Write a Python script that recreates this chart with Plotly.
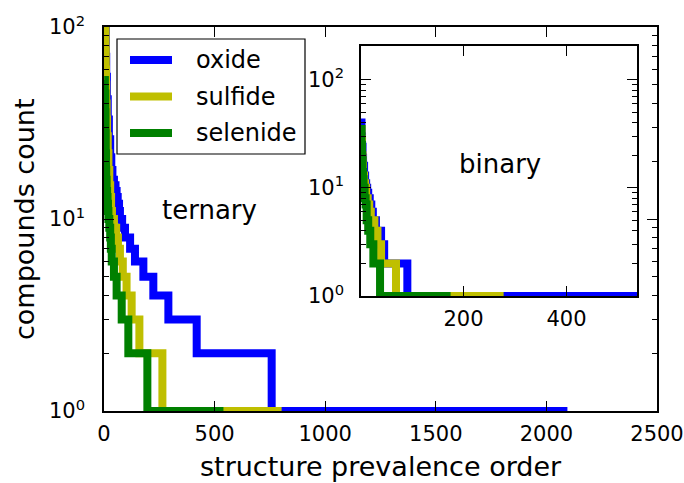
import plotly.graph_objects as go

W, H = 684, 483

# ---------------- data (rank where each count level starts, count) ----------------
series_names = ["oxide", "sulfide", "selenide"]
series_colors = ["#0000ff", "#bfbf00", "#008000"]

# ternary (main panel)
tern_oxide_rank = [1, 3, 5, 6, 8, 10, 13, 17, 22, 28, 33, 38, 45, 52, 57, 62, 68, 72, 82, 95, 118, 140, 178, 223, 291, 419, 758, 2095]
tern_oxide_count = [220, 150, 110, 100, 70, 55, 42, 33, 26, 21, 18, 16, 15, 14, 13, 12, 11, 10, 9, 8, 7, 6, 5, 4, 3, 2, 1, 1]

tern_sulfide_rank = [1, 3, 5, 7, 8, 9, 10, 12, 14, 17, 20, 24, 28, 32, 36, 45, 55, 63, 72, 85, 102, 125, 160, 264, 803]
tern_sulfide_count = [160, 120, 100, 75, 60, 50, 40, 33, 27, 22, 18, 15, 13, 11, 10, 9, 8, 7, 6, 5, 4, 3, 2, 1, 1]

tern_selenide_rank = [1, 4, 6, 7, 8, 9, 10, 12, 14, 16, 18, 20, 24, 28, 31, 35, 45, 57, 80, 110, 196, 540]
tern_selenide_count = [53, 45, 36, 28, 22, 18, 16, 14, 13, 12, 11, 10, 9, 8, 7, 6, 5, 4, 3, 2, 1, 1]

# binary (inset)
bin_oxide_rank = [1, 2, 3, 4, 5, 7, 9, 11, 13, 15, 18, 21, 24, 30, 40, 46, 91, 537]
bin_oxide_count = [40, 30, 24, 19, 16, 13, 11, 10, 9, 8, 7, 6, 5, 4, 3, 2, 1, 1]

bin_sulfide_rank = [1, 2, 3, 4, 5, 7, 9, 11, 14, 17, 20, 27, 33, 40, 69, 278]
bin_sulfide_count = [35, 28, 20, 16, 13, 11, 10, 8, 7, 6, 5, 4, 3, 2, 1, 1]

bin_selenide_rank = [1, 2, 3, 4, 5, 6, 8, 10, 12, 15, 19, 25, 38, 175]
bin_selenide_count = [35, 25, 18, 14, 12, 10, 8, 7, 5, 4, 3, 2, 1, 1]

main_xticks = [0, 500, 1000, 1500, 2000, 2500]
inset_xticks = [200, 400]
log_tickvals = [1, 10, 100]
log_ticktext = ["10<sup>0</sup>", "10<sup>1</sup>", "10<sup>2</sup>"]
minor_vals = [m * d for d in (1, 10, 100) for m in range(2, 10)]

# ---------------- figure ----------------
FONT = "DejaVu Sans"
LW = 8

fig = go.Figure()
tern = [(tern_oxide_rank, tern_oxide_count), (tern_sulfide_rank, tern_sulfide_count),
        (tern_selenide_rank, tern_selenide_count)]
binr = [(bin_oxide_rank, bin_oxide_count), (bin_sulfide_rank, bin_sulfide_count),
        (bin_selenide_rank, bin_selenide_count)]

for (xs, ys), name, col in zip(tern, series_names, series_colors):
    fig.add_trace(go.Scatter(x=xs, y=ys, mode="lines", name=name, showlegend=False,
                             line=dict(color=col, width=LW, shape="hv"),
                             xaxis="x", yaxis="y"))
for (xs, ys), name, col in zip(binr, series_names, series_colors):
    fig.add_trace(go.Scatter(x=xs, y=ys, mode="lines", name=name, showlegend=False,
                             line=dict(color=col, width=LW, shape="hv"),
                             xaxis="x2", yaxis="y2"))


def px(x):
    return x / W


def py(y):
    return 1 - y / H


axis_common = dict(showline=True, linecolor="black", linewidth=1.5, mirror="ticks",
                   ticks="inside", ticklen=10, tickwidth=1.2, tickcolor="black",
                   showgrid=False, zeroline=False, automargin=False,
                   tickfont=dict(family=FONT, size=21, color="black"))

fig.update_layout(
    template="none",
    width=W, height=H, margin=dict(l=0, r=0, t=0, b=0, pad=0),
    paper_bgcolor="white", plot_bgcolor="white", showlegend=False,
    xaxis=dict(domain=[px(104), px(657)], range=[0, 2500], tickvals=main_xticks,
               ticklabelstandoff=3, anchor="y", **axis_common),
    yaxis=dict(domain=[py(411), py(27)], type="log", range=[0, 2],
               tickvals=log_tickvals, ticktext=log_ticktext, ticklabelstandoff=13,
               minor=dict(tickvals=minor_vals, ticks="inside", ticklen=5,
                          tickcolor="black", tickwidth=1.2, showgrid=False),
               anchor="x", **axis_common),
    xaxis2=dict(domain=[px(361), px(637)], range=[1, 537], tickvals=inset_xticks,
                ticklabelstandoff=3, anchor="y2", **axis_common),
    yaxis2=dict(domain=[py(296), py(46)], type="log", range=[0, 2.31],
                tickvals=log_tickvals, ticktext=log_ticktext, ticklabelstandoff=11,
                minor=dict(tickvals=minor_vals, ticks="inside", ticklen=5,
                           tickcolor="black", tickwidth=1.2, showgrid=False),
                anchor="x2", **axis_common),
)

# ---------------- legend (manual box) ----------------
shapes = [dict(type="rect", xref="paper", yref="paper",
               x0=px(117), x1=px(305), y0=py(154), y1=py(39),
               line=dict(color="black", width=1.2), fillcolor="white", layer="above")]
annotations = []
leg_rows = [60, 96.5, 133]
for name, col, yy in zip(series_names, series_colors, leg_rows):
    shapes.append(dict(type="line", xref="paper", yref="paper",
                       x0=px(130), x1=px(172), y0=py(yy), y1=py(yy),
                       line=dict(color=col, width=LW), layer="above"))
    annotations.append(dict(xref="paper", yref="paper", x=px(194), y=py(yy),
                            text=name, showarrow=False, xanchor="left", yanchor="middle",
                            font=dict(family=FONT, size=24, color="black")))

annotations += [
    dict(xref="paper", yref="paper", x=px(209), y=py(210), text="ternary", showarrow=False,
         xanchor="center", yanchor="middle", font=dict(family=FONT, size=26, color="black")),
    dict(xref="paper", yref="paper", x=px(500), y=py(164), text="binary", showarrow=False,
         xanchor="center", yanchor="middle", font=dict(family=FONT, size=26, color="black")),
    dict(xref="paper", yref="paper", x=px(380.5), y=py(466), text="structure prevalence order",
         showarrow=False, xanchor="center", yanchor="middle",
         font=dict(family=FONT, size=27, color="black")),
    dict(xref="paper", yref="paper", x=px(24), y=py(219), text="compounds count",
         showarrow=False, xanchor="center", yanchor="middle", textangle=-90,
         font=dict(family=FONT, size=27, color="black")),
]

fig.update_layout(shapes=shapes, annotations=annotations)
fig.write_html("out.html")
